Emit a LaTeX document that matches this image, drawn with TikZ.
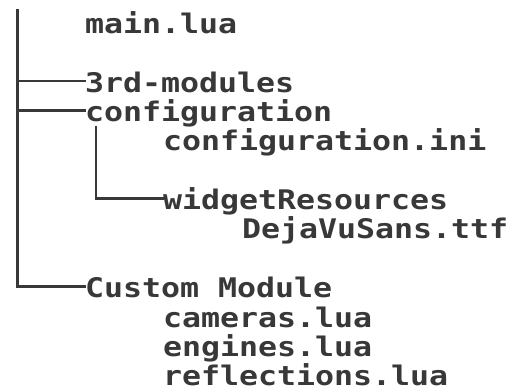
\documentclass[tikz,border=0pt]{standalone}
\usepackage{fontspec}
\newfontfamily\treefont{DejaVu Sans Mono}[FakeStretch=1.17]
\begin{document}
\begin{tikzpicture}[x=1pt,y=-1pt,
  entry/.style={anchor=base west,inner sep=0pt,outer sep=0pt,
    text height=22pt,text depth=0pt,text=black!78,
    font=\treefont\bfseries\fontsize{27}{30}\selectfont},
  branch/.style={draw=black!78,line width=2.6pt,line cap=rect}]
\useasboundingbox (0,0) rectangle (512,391);
\coordinate (trunk) at (17.5,10);
\coordinate (sub) at (96,127);
\node[entry] (main) at (85,33) {main.lua};
\node[entry] (third) at (85,92) {3rd-modules};
\node[entry] (config) at (85,121.5) {configuration};
\node[entry] (ini) at (163,150.5) {configuration.ini};
\node[entry] (widget) at (163,209.5) {widgetResources};
\node[entry] (deja) at (242,238.5) {DejaVuSans.ttf};
\node[entry] (custom) at (85,297.5) {Custom Module};
\node[entry] (cam) at (163,327) {cameras.lua};
\node[entry] (eng) at (163,356) {engines.lua};
\node[entry] (refl) at (163,385) {reflections.lua};
\draw[branch] (trunk) |- (custom.west);
\draw[branch] (trunk |- third.west) -- (third.west);
\draw[branch] (trunk |- config.west) -- (config.west);
\draw[branch] (sub) |- (widget.west);
\end{tikzpicture}
\end{document}
